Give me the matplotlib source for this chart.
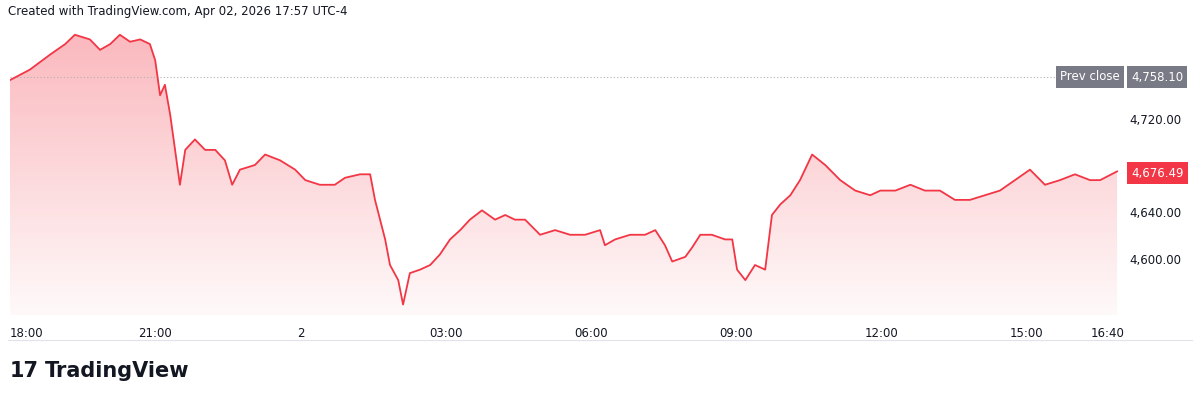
import numpy as np
import matplotlib.pyplot as plt
from matplotlib.patches import Polygon

# hours since 18:00 and price
hours = [0, 0.41, 0.83, 1.14, 1.34, 1.65, 1.86, 2.07, 2.27, 2.48, 2.69, 2.89, 3.00,
         3.10, 3.20, 3.31, 3.41, 3.51, 3.62, 3.82, 4.03, 4.24, 4.44, 4.59, 4.75, 5.06,
         5.27, 5.58, 5.89, 6.10, 6.40, 6.71, 6.92, 7.23, 7.44, 7.54, 7.75, 7.85, 8.02,
         8.12, 8.26, 8.47, 8.68, 8.88, 9.09, 9.30, 9.50, 9.75, 10.02, 10.23, 10.43,
         10.64, 10.95, 11.26, 11.57, 11.88, 12.19, 12.29, 12.50, 12.81, 13.12, 13.33,
         13.53, 13.68, 13.95, 14.09, 14.26, 14.50, 14.77, 14.92, 15.02, 15.19, 15.39,
         15.60, 15.74, 15.91, 16.12, 16.32, 16.57, 16.84, 17.15, 17.46, 17.77, 17.98,
         18.29, 18.60, 18.90, 19.21, 19.52, 19.83, 20.14, 20.45, 20.76, 21.07, 21.38,
         21.69, 22.00, 22.31, 22.52, 22.87]
prices = [4755, 4764, 4777, 4786, 4794, 4790, 4781, 4786, 4794, 4788, 4790, 4786, 4772,
          4742, 4751, 4725, 4695, 4665, 4695, 4704, 4695, 4695, 4686, 4665, 4678, 4682,
          4691, 4686, 4678, 4669, 4665, 4665, 4671, 4674, 4674, 4652, 4618, 4596, 4583,
          4562, 4589, 4592, 4596, 4605, 4618, 4626, 4635, 4643, 4635, 4639, 4635, 4635,
          4622, 4626, 4622, 4622, 4626, 4613, 4618, 4622, 4622, 4626, 4613, 4599, 4603,
          4611, 4622, 4622, 4618, 4618, 4592, 4583, 4596, 4592, 4639, 4648, 4656, 4669,
          4691, 4682, 4669, 4660, 4656, 4660, 4660, 4665, 4660, 4660, 4652, 4652, 4656,
          4660, 4669, 4678, 4665, 4669, 4674, 4669, 4669, 4676.49]
prev_close = 4758.10
last = 4676.49
tick_hours = [0, 3, 6, 9, 12, 15, 18, 21, 22.67]
tick_labels = ["18:00", "21:00", "2", "03:00", "06:00", "09:00", "12:00", "15:00", "16:40"]
y_ticks = [4600, 4640, 4720]

red = "#f23645"
fig = plt.figure(figsize=(12, 4.01), dpi=100)
ax = fig.add_axes([10/1200, 86/401, 1110/1200, 300/401])
ymin, ymax = 4553, 4811
xmin, xmax = 0, 22.93
ax.set_xlim(xmin, xmax)
ax.set_ylim(ymin, ymax)

alpha = np.linspace(0.35, 0.03, 256)
img = np.zeros((256, 1, 4))
img[:, 0, 0] = 0.95; img[:, 0, 1] = 0.21; img[:, 0, 2] = 0.27
img[:, 0, 3] = alpha
im = ax.imshow(img, extent=[xmin, xmax, ymin, max(prices)], aspect="auto", origin="upper", zorder=1)
poly = Polygon(list(zip(hours, prices)) + [(hours[-1], ymin), (hours[0], ymin)],
               closed=True, facecolor="none", edgecolor="none")
ax.add_patch(poly)
im.set_clip_path(poly)
ax.plot(hours, prices, color=red, lw=1.3, zorder=3)
ax.axhline(prev_close, color="#b0b0b0", lw=0.8, ls=(0, (1, 2)), zorder=2)

for s in ax.spines.values():
    s.set_visible(False)
ax.set_xticks([])
ax.set_yticks([])
for h, lab in zip(tick_hours, tick_labels):
    ax.text(h, -0.04, lab, transform=ax.get_xaxis_transform(),
            ha="left" if h == 0 else "center", va="top", fontsize=8.5, color="#131722")
for v in y_ticks:
    ax.text(1.008, v, f"{v:,.2f}", transform=ax.get_yaxis_transform(), ha="left",
            va="center", fontsize=8.5, color="#131722")

fig.text(1131/1200, 1 - 77/401, f"{prev_close:,.2f}", ha="left", va="center", fontsize=8.5,
         color="white", bbox=dict(boxstyle="square,pad=0.35", fc="#787b86", ec="none"))
fig.text(1120/1200, 1 - 77/401, "Prev close", ha="right", va="center", fontsize=8.5,
         color="white", bbox=dict(boxstyle="square,pad=0.35", fc="#787b86", ec="none"))
fig.text(1131/1200, 1 - 173/401, f"{last:,.2f}", ha="left", va="center", fontsize=8.5,
         color="white", bbox=dict(boxstyle="square,pad=0.35", fc=red, ec="none"))

fig.text(8/1200, 1 - 11/401, "Created with TradingView.com, Apr 02, 2026 17:57 UTC-4",
         ha="left", va="center", fontsize=8.5, color="#131722")
fig.add_artist(plt.Line2D([8/1200, 1192/1200], [1 - 340/401] * 2, color="#e0e3eb", lw=0.8))
fig.text(10/1200, 1 - 371/401, "17", ha="left", va="center", fontsize=15,
         fontweight="bold", color="#131722")
fig.text(45/1200, 1 - 371/401, "TradingView", ha="left", va="center", fontsize=15,
         fontweight="bold", color="#131722")
fig.savefig("out.png", dpi=100, facecolor="white")
